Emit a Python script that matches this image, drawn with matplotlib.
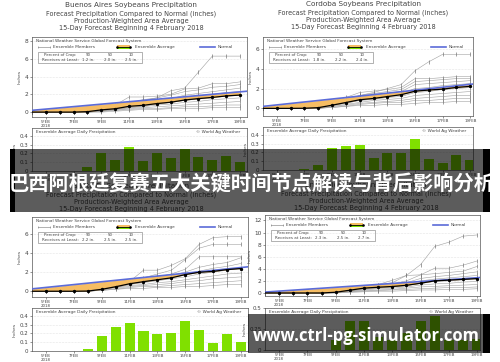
import matplotlib.pyplot as plt
from matplotlib.patches import Rectangle
import numpy as np

# --------------------------------------
# Data
# --------------------------------------
days = list(range(4, 20))          # cumulative curves, 4 Feb .. 19 Feb
bar_days = list(range(5, 20))      # daily bars, 5 Feb .. 19 Feb
tick_days = [5, 7, 9, 11, 13, 15, 17, 19]
tick_labels = ['5FEB\n2018', '7FEB', '9FEB', '11FEB', '13FEB', '15FEB', '17FEB', '19FEB']

regions = ['Buenos Aires', 'Cordoba', 'Santa Fe', 'Entre Rios']
crop_pct = ['90', '50', '10']
crop_inches = [['1.2', '2.0', '2.5'], ['1.8', '2.2', '2.4'], ['2.2', '2.5', '2.5'], ['2.3', '2.5', '2.7']]

# normal, given at start (4 Feb) and end of the axis
normal_days = [4, 19.5]
normal_ba = [0.2, 2.35]
normal_co = [0.2, 2.5]
normal_sf = [0.25, 2.55]
normal_er = [0.15, 2.6]

# ensemble average (cumulative)
avg_ba = [0, 0, 0, 0, 0.05, 0.25, 0.38, 0.65, 0.76, 0.96, 1.11, 1.36, 1.52, 1.65, 1.82, 1.92]
avg_co = [0, 0, 0, 0.01, 0.07, 0.32, 0.59, 0.87, 1.0, 1.19, 1.38, 1.73, 1.85, 1.94, 2.11, 2.22]
avg_sf = [0, 0, 0, 0, 0.02, 0.2, 0.47, 0.78, 1.0, 1.2, 1.4, 1.74, 1.98, 2.07, 2.26, 2.37]
avg_er = [0, 0, 0, 0, 0, 0.12, 0.46, 0.8, 0.95, 1.07, 1.27, 1.61, 2.01, 2.13, 2.25, 2.38]

# ensemble average daily precipitation
daily_ba = [0, 0, 0, 0.05, 0.2, 0.13, 0.27, 0.11, 0.2, 0.15, 0.25, 0.16, 0.13, 0.17, 0.1]
daily_co = [0, 0, 0.01, 0.06, 0.25, 0.27, 0.28, 0.135, 0.19, 0.19, 0.35, 0.12, 0.085, 0.17, 0.11]
daily_sf = [0, 0, 0, 0.02, 0.175, 0.27, 0.315, 0.225, 0.19, 0.2, 0.34, 0.24, 0.095, 0.19, 0.105]
daily_er = [0, 0, 0, 0, 0.12, 0.34, 0.34, 0.15, 0.12, 0.2, 0.34, 0.4, 0.12, 0.12, 0.13]

# ensemble members (cumulative)
members_ba = [
    [0, 0, 0, 0, 0.1, 0.4, 0.7, 1.1, 1.3, 1.6, 2.4, 2.7, 4.5, 6.3, 6.3, 6.3],
    [0, 0, 0, 0, 0.1, 0.4, 0.8, 1.7, 1.7, 1.8, 2.0, 2.6, 2.7, 3.2, 3.2, 3.4],
    [0, 0, 0, 0, 0.1, 0.3, 0.6, 1.0, 1.4, 1.6, 1.9, 2.3, 2.5, 2.8, 2.9, 3.1],
    [0, 0, 0, 0, 0.05, 0.3, 0.5, 0.8, 1.0, 1.2, 1.5, 1.9, 2.1, 2.3, 2.5, 2.7],
    [0, 0, 0, 0, 0.05, 0.2, 0.4, 0.7, 0.9, 1.0, 1.3, 1.6, 1.8, 2.0, 2.2, 2.3],
    [0, 0, 0, 0, 0, 0.2, 0.3, 0.5, 0.7, 0.9, 1.1, 1.3, 1.5, 1.7, 1.8, 1.9],
    [0, 0, 0, 0, 0, 0.1, 0.3, 0.5, 0.6, 0.8, 0.9, 1.1, 1.2, 1.4, 1.5, 1.6],
    [0, 0, 0, 0, 0, 0.1, 0.2, 0.4, 0.5, 0.6, 0.7, 0.8, 0.9, 1.0, 1.1, 1.2],
    [0, 0, 0, 0, 0, 0.1, 0.2, 0.3, 0.4, 0.4, 0.5, 0.6, 0.6, 0.7, 0.8, 0.8],
    [0, 0, 0, 0, 0, 0, 0.1, 0.2, 0.3, 0.3, 0.4, 0.4, 0.4, 0.5, 0.5, 0.5],
]
members_co = [
    [0, 0, 0, 0.05, 0.1, 0.4, 0.8, 1.3, 1.6, 2.0, 2.4, 3.8, 4.7, 5.45, 5.45, 5.45],
    [0, 0, 0, 0.05, 0.2, 0.6, 1.1, 1.6, 1.75, 1.9, 2.1, 3.0, 3.0, 3.1, 3.2, 3.2],
    [0, 0, 0, 0.05, 0.2, 0.5, 0.9, 1.3, 1.5, 1.7, 1.9, 2.7, 2.8, 2.9, 3.0, 3.0],
    [0, 0, 0, 0, 0.1, 0.4, 0.8, 1.1, 1.3, 1.5, 1.7, 2.4, 2.5, 2.6, 2.7, 2.8],
    [0, 0, 0, 0, 0.1, 0.3, 0.6, 0.9, 1.1, 1.3, 1.5, 2.0, 2.1, 2.3, 2.4, 2.5],
    [0, 0, 0, 0, 0.1, 0.3, 0.5, 0.8, 0.9, 1.1, 1.2, 1.6, 1.7, 1.9, 2.0, 2.1],
    [0, 0, 0, 0, 0, 0.2, 0.4, 0.6, 0.8, 0.9, 1.0, 1.3, 1.4, 1.5, 1.6, 1.7],
    [0, 0, 0, 0, 0, 0.2, 0.3, 0.5, 0.6, 0.7, 0.8, 1.0, 1.1, 1.2, 1.3, 1.3],
    [0, 0, 0, 0, 0, 0.1, 0.2, 0.4, 0.5, 0.6, 0.6, 0.8, 0.8, 0.9, 1.0, 1.0],
    [0, 0, 0, 0, 0, 0.1, 0.2, 0.3, 0.3, 0.4, 0.4, 0.5, 0.6, 0.6, 0.7, 0.7],
]
members_sf = [
    [0, 0, 0, 0, 0.1, 0.3, 0.6, 1.0, 2.2, 2.2, 2.7, 3.4, 4.9, 5.6, 5.7, 5.7],
    [0, 0, 0, 0, 0.1, 0.3, 0.7, 1.1, 1.4, 1.8, 2.2, 3.3, 4.5, 4.9, 4.9, 4.9],
    [0, 0, 0, 0, 0.1, 0.3, 0.6, 0.9, 1.2, 1.5, 1.8, 2.3, 3.6, 3.6, 3.6, 3.6],
    [0, 0, 0, 0, 0.1, 0.3, 0.6, 0.9, 1.1, 1.4, 1.6, 2.0, 2.5, 2.8, 3.0, 3.5],
    [0, 0, 0, 0, 0.1, 0.2, 0.5, 0.8, 1.0, 1.2, 1.5, 1.8, 2.1, 2.4, 2.6, 2.9],
    [0, 0, 0, 0, 0.05, 0.2, 0.4, 0.7, 0.9, 1.1, 1.3, 1.5, 1.8, 2.0, 2.2, 2.4],
    [0, 0, 0, 0, 0.05, 0.2, 0.4, 0.6, 0.7, 0.9, 1.0, 1.2, 1.4, 1.6, 1.8, 1.9],
    [0, 0, 0, 0, 0, 0.1, 0.3, 0.5, 0.6, 0.7, 0.8, 1.0, 1.1, 1.3, 1.4, 1.5],
    [0, 0, 0, 0, 0, 0.1, 0.2, 0.4, 0.5, 0.5, 0.6, 0.7, 0.8, 0.9, 1.0, 1.1],
    [0, 0, 0, 0, 0, 0.1, 0.2, 0.3, 0.3, 0.4, 0.4, 0.5, 0.5, 0.6, 0.7, 0.7],
]
members_er = [
    [0, 0, 0, 0, 0, 0.2, 0.6, 1.0, 1.4, 2.1, 2.9, 4.7, 7.7, 8.4, 9.4, 9.6],
    [0, 0, 0, 0, 0, 0.2, 0.5, 0.9, 1.3, 1.7, 2.9, 3.0, 4.1, 4.1, 4.6, 5.3],
    [0, 0, 0, 0, 0, 0.2, 0.5, 0.9, 1.2, 1.5, 2.0, 3.0, 3.2, 3.4, 3.6, 4.4],
    [0, 0, 0, 0, 0, 0.1, 0.4, 0.8, 1.0, 1.3, 1.7, 2.4, 2.7, 2.9, 3.2, 3.5],
    [0, 0, 0, 0, 0, 0.1, 0.4, 0.7, 0.9, 1.1, 1.4, 2.0, 2.3, 2.5, 2.7, 2.9],
    [0, 0, 0, 0, 0, 0.1, 0.3, 0.6, 0.8, 1.0, 1.2, 1.6, 1.9, 2.0, 2.2, 2.4],
    [0, 0, 0, 0, 0, 0.1, 0.3, 0.5, 0.7, 0.8, 1.0, 1.3, 1.5, 1.6, 1.8, 1.9],
    [0, 0, 0, 0, 0, 0.1, 0.2, 0.4, 0.5, 0.6, 0.8, 1.0, 1.1, 1.2, 1.3, 1.4],
    [0, 0, 0, 0, 0, 0, 0.2, 0.3, 0.4, 0.5, 0.6, 0.7, 0.8, 0.9, 0.9, 1.0],
    [0, 0, 0, 0, 0, 0, 0.1, 0.2, 0.3, 0.3, 0.4, 0.5, 0.5, 0.6, 0.6, 0.7],
]

banner_text = '巴西阿根廷复赛五大关键时间节点解读与背后影响分析'
watermark_text = 'www.ctrl-pg-simulator.com'

# --------------------------------------
# Figure setup (everything placed in pixels of a 500x362 image)
# --------------------------------------
W, H = 500, 362
fig = plt.figure(figsize=(5, 3.62), dpi=100)
fig.patch.set_facecolor('white')

TXT = '#444444'
GREEN = '#80e000'
ORANGE = '#f6bd63'
BLUE = '#5b6bd8'
GREY = '#a0a0a0'


def rect(x0, y0, x1, y1):
    return [x0 / W, 1 - y1 / H, (x1 - x0) / W, (y1 - y0) / H]


def style_axis(ax, xlim):
    ax.set_xlim(*xlim)
    ax.set_xticks(tick_days)
    ax.set_xticklabels(tick_labels, fontsize=2.8, color=TXT, linespacing=0.9)
    ax.tick_params(axis='both', length=1.5, width=0.4, pad=1, color='#444')
    ax.tick_params(axis='y', labelsize=4.2, labelcolor=TXT)
    for s in ax.spines.values():
        s.set_linewidth(0.5)
        s.set_color('#555')
    ax.set_ylabel('Inches', fontsize=3.2, color=TXT, labelpad=2)


def draw_panel(cx, ty, top_box, bar_box, xlim, ylim, yticks, bar_ylim, bar_ticks,
               name, normal, avg, daily, members, inches):
    # title block
    fig.text(cx / W, 1 - ty / H, name + ' Soybeans Precipitation', ha='center', va='center',
             fontsize=5.2, color=TXT)
    sub = ['Forecast Precipitation Compared to Normal (inches)',
           'Production-Weighted Area Average',
           '15-Day Forecast Beginning 4 February 2018']
    for k, s in enumerate(sub):
        fig.text(cx / W, 1 - (ty + 9 + 7 * k) / H, s, ha='center', va='center',
                 fontsize=4.7, color=TXT)

    # cumulative chart
    ax = fig.add_axes(rect(*top_box))
    style_axis(ax, xlim)
    ax.set_ylim(*ylim)
    ax.set_yticks(yticks)
    for y in yticks[1:]:
        ax.axhline(y, color='#cccccc', lw=0.4, ls=':', zorder=0)
    for m in members:
        ax.plot(days, m, color=GREY, lw=0.4, marker='|', ms=2.4, mew=0.5, mec='#777', zorder=1)
    norm_line = np.interp(days, normal_days, normal)
    ax.fill_between(days, avg, norm_line, where=np.array(norm_line) >= np.array(avg),
                    color=ORANGE, lw=0, zorder=2, interpolate=True)
    ax.plot(normal_days, normal, color=BLUE, lw=1.2, zorder=3)
    ax.plot(days, avg, color='black', lw=0.9, marker='o', ms=1.4, markevery=list(range(1, 16)), zorder=4)

    # legend block
    t = ax.transAxes
    bw = top_box[2] - top_box[0]
    bh = top_box[3] - top_box[1]

    def ax_xy(px, py):
        return (px - top_box[0]) / bw, 1 - (py - top_box[1]) / bh

    x0, y0 = ax_xy(top_box[0] + 4, top_box[1] + 3.7)
    ax.text(x0, y0, 'National Weather Service Global Forecast System', transform=t,
            fontsize=3.1, color=TXT, va='center', ha='left')
    ya = ax_xy(0, top_box[1] + 9.7)[1]
    xa, xb = ax_xy(top_box[0] + 6, 0)[0], ax_xy(top_box[0] + 18, 0)[0]
    ax.plot([xa, xb], [ya, ya], color='#777', lw=0.4, marker='|', ms=2, mew=0.4, transform=t)
    ax.text(ax_xy(top_box[0] + 21, 0)[0], ya, 'Ensemble Members', transform=t,
            fontsize=3.1, color=TXT, va='center')
    xa, xb = ax_xy(top_box[0] + 85, 0)[0], ax_xy(top_box[0] + 98, 0)[0]
    ax.add_patch(Rectangle((xa, ya), xb - xa, 0.02, transform=t, color=ORANGE, lw=0))
    ax.add_patch(Rectangle((xa, ya - 0.025), xb - xa, 0.025, transform=t, color=GREEN, lw=0))
    ax.plot([xa, xb], [ya, ya], color='black', lw=0.6, marker='o', ms=0.9, transform=t)
    ax.text(ax_xy(top_box[0] + 103, 0)[0], ya, 'Ensemble Average', transform=t,
            fontsize=3.1, color=TXT, va='center')
    xa, xb = ax_xy(top_box[0] + 168, 0)[0], ax_xy(top_box[0] + 183, 0)[0]
    ax.plot([xa, xb], [ya, ya], color=BLUE, lw=1.2, transform=t)
    ax.text(ax_xy(top_box[0] + 186, 0)[0], ya, 'Normal', transform=t,
            fontsize=3.1, color=TXT, va='center')

    bx0, by1 = ax_xy(top_box[0] + 6, top_box[1] + 26)
    bx1, by0 = ax_xy(top_box[0] + 110, top_box[1] + 15)
    ax.add_patch(Rectangle((bx0, by1), bx1 - bx0, by0 - by1, transform=t, fill=False,
                           ec='#777', lw=0.4))
    r1 = ax_xy(0, top_box[1] + 18.3)[1]
    r2 = ax_xy(0, top_box[1] + 23)[1]
    ax.text(ax_xy(top_box[0] + 28, 0)[0], r1, 'Percent of Crop:', transform=t, fontsize=2.9,
            color=TXT, va='center', ha='center')
    ax.text(ax_xy(top_box[0] + 28, 0)[0], r2, 'Receives at Least:', transform=t, fontsize=2.9,
            color=TXT, va='center', ha='center')
    for k, cx_ in enumerate([56, 78, 99]):
        ax.text(ax_xy(top_box[0] + cx_, 0)[0], r1, crop_pct[k], transform=t, fontsize=2.9,
                color=TXT, va='center', ha='center')
        ax.text(ax_xy(top_box[0] + cx_, 0)[0], r2, inches[k] + ' in.', transform=t,
                fontsize=2.9, color=TXT, va='center', ha='center')

    # daily bars
    bx = fig.add_axes(rect(*bar_box))
    style_axis(bx, xlim)
    bx.set_ylim(*bar_ylim)
    bx.set_yticks(bar_ticks)
    bx.set_yticklabels([('%g' % v) for v in bar_ticks], fontsize=4.0)
    for y in bar_ticks[1:]:
        bx.axhline(y, color='#cccccc', lw=0.4, ls=':', zorder=0)
    bx.bar(bar_days, daily, width=0.72, color=GREEN, zorder=2)
    bx.text(0.02, 0.9, 'Ensemble Average Daily Precipitation', transform=bx.transAxes,
            fontsize=3.1, color=TXT, va='center')
    bx.text(0.97, 0.9, '\u00a9 World Ag Weather', transform=bx.transAxes,
            fontsize=3.1, color=TXT, va='center', ha='right')


draw_panel(131, 5, (32, 37, 247, 117), (32, 128, 247, 171), (4, 19.5), (-0.55, 8.45),
           [0, 2, 4, 6, 8], (0, 0.49), [0, 0.1, 0.2, 0.3, 0.4],
           regions[0], normal_ba, avg_ba, daily_ba, members_ba, crop_inches[0])
draw_panel(363, 4, (263, 37, 473, 116), (263, 127, 473, 170), (4, 19.2), (-0.77, 7.2),
           [0, 2, 4, 6], (0, 0.49), [0, 0.1, 0.2, 0.3, 0.4],
           regions[1], normal_co, avg_co, daily_co, members_co, crop_inches[1])
draw_panel(131, 186, (32, 217, 248, 297), (32, 308, 248, 351), (4, 19.5), (-0.6, 7.75),
           [0, 2, 4, 6], (0, 0.49), [0, 0.1, 0.2, 0.3, 0.4],
           regions[2], normal_sf, avg_sf, daily_sf, members_sf, crop_inches[2])
draw_panel(366, 185, (265, 215, 480, 296), (265, 308, 480, 350), (4, 19.2), (-0.5, 12.9),
           [0, 2, 4, 6, 8, 10, 12], (0, 0.5), [0, 0.25, 0.5],
           regions[3], normal_er, avg_er, daily_er, members_er, crop_inches[3])

# --------------------------------------
# Overlays: headline banner and watermark band
# --------------------------------------
def band(x0, y0, x1, y1, alpha):
    fig.add_artist(Rectangle((x0 / W, 1 - y1 / H), (x1 - x0) / W, (y1 - y0) / H,
                             transform=fig.transFigure, color='black', alpha=alpha,
                             lw=0, zorder=10))

band(15, 149, 483, 212, 0.64)
band(10, 149, 15, 212, 1.0)
band(483, 149, 490, 212, 1.0)
band(248, 314, 483, 353, 0.64)
band(483, 314, 490, 353, 1.0)

fig.text(251.5 / W, 1 - 184 / H, banner_text, ha='center', va='center', fontsize=14.6,
         fontweight='bold', color='white', family=['Noto Sans CJK SC', 'DejaVu Sans'], zorder=11)
fig.text(366.5 / W, 1 - 336 / H, watermark_text, ha='center', va='center', fontsize=12.0,
         fontweight='bold', color='white', family=['Open Sans', 'DejaVu Sans'], zorder=11)

fig.savefig('out.png', dpi=100)
